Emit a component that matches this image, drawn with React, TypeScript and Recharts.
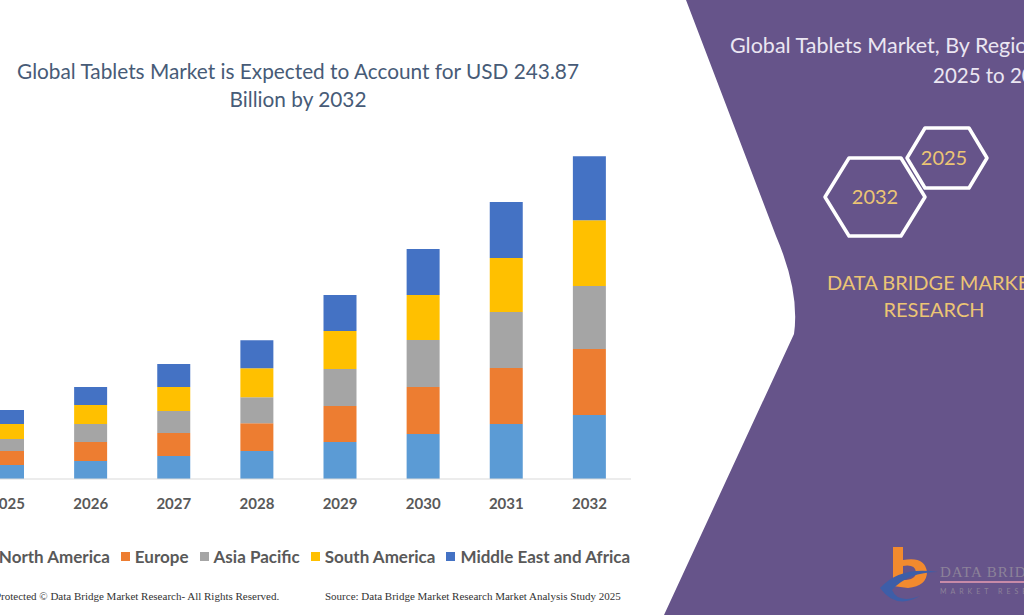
import React from "react";
import { BarChart, Bar, XAxis, YAxis, Legend } from "recharts";

const years = ["2025", "2026", "2027", "2028", "2029", "2030", "2031", "2032"];
const northAmerica = [10.6, 13.6, 17.4, 21.1, 27.9, 34.0, 41.5, 48.3];
const europe = [10.6, 14.3, 17.4, 21.1, 27.2, 35.5, 42.3, 49.8];
const asiaPacific = [9.1, 13.6, 16.6, 19.6, 27.9, 35.5, 42.3, 47.6];
const southAmerica = [11.3, 14.3, 18.1, 21.9, 28.7, 34.0, 40.8, 49.8];
const middleEastAfrica = [10.6, 13.6, 17.4, 21.1, 27.2, 34.7, 42.3, 48.3];

const series = [
  { key: "na", name: "North America", color: "#5b9bd5", values: northAmerica },
  { key: "eu", name: "Europe", color: "#ed7d31", values: europe },
  { key: "ap", name: "Asia Pacific", color: "#a5a5a5", values: asiaPacific },
  { key: "sa", name: "South America", color: "#ffc000", values: southAmerica },
  { key: "mea", name: "Middle East and Africa", color: "#4472c4", values: middleEastAfrica },
];

const data = years.map((year, i) => {
  const row: Record<string, string | number> = { year };
  series.forEach((s) => (row[s.key] = s.values[i]));
  return row;
});

const PURPLE = "#66548a";
const GOLD = "#ecc574";

// flat-topped hexagon outline
function hexPoints(cx: number, cy: number, hw: number, hh: number, top: number) {
  return [
    [cx - hw, cy],
    [cx - top, cy - hh],
    [cx + top, cy - hh],
    [cx + hw, cy],
    [cx + top, cy + hh],
    [cx - top, cy + hh],
  ]
    .map((p) => p.join(","))
    .join(" ");
}

function Backdrop() {
  return (
    <svg width={1024} height={615} style={{ position: "absolute", left: 0, top: 0 }}>
      <path d="M686,0 L776,236 Q800,292 794,334 L664,615 L1024,615 L1024,0 Z" fill={PURPLE} />

      <text x={298} y={79} textAnchor="middle" fontSize={20.8} fill="#475b77">
        Global Tablets Market is Expected to Account for USD 243.87
      </text>
      <text x={298} y={107} textAnchor="middle" fontSize={20.8} fill="#475b77">
        Billion by 2032
      </text>

      <text x={730} y={53} fontSize={21.5} fill="#ebe6f2">
        Global Tablets Market, By Region,
      </text>
      <text x={933} y={83} fontSize={20.5} fill="#ebe6f2">
        2025 to 2032
      </text>

      <polygon points={hexPoints(947, 158, 40, 30, 22)} fill="none" stroke="#fff" strokeWidth={3.5} strokeLinejoin="round" />
      <polygon points={hexPoints(875, 197, 50, 39, 26)} fill="none" stroke="#fff" strokeWidth={3.5} strokeLinejoin="round" />
      <text x={944} y={165} textAnchor="middle" fontSize={20} fill={GOLD}>2025</text>
      <text x={875} y={204} textAnchor="middle" fontSize={20} fill={GOLD}>2032</text>

      <text x={934} y={290} textAnchor="middle" fontSize={20} fill={GOLD}>DATA BRIDGE MARKET</text>
      <text x={934} y={317} textAnchor="middle" fontSize={20} fill={GOLD}>RESEARCH</text>

      {/* logo */}
      <path d="M893,547 L903,547 L903,560 Q925,556 927,572 Q927,586 908,588 L893,586 Z M903,566 L903,580 Q916,580 916,572 Q915,564 903,566 Z" fill="#f28a2e" fillRule="evenodd" />
      <path d="M880,588 Q900,566 938,572 Q908,572 892,590 Q898,604 920,596 Q896,610 880,588 Z" fill="#3d5ea8" />
      <text x={940} y={577} fontSize={15} fill="#8c8299" fontFamily="Liberation Serif" letterSpacing={1}>DATA BRIDGE</text>
      <line x1={940} y1={582} x2={1024} y2={582} stroke="#c78aa8" strokeWidth={2} />
      <text x={940} y={594} fontSize={7} fill="#8c8299" letterSpacing={4}>MARKET RESEARCH</text>

      <text x={-5} y={600} fontSize={11} fill="#333" fontFamily="Liberation Serif">
        Protected © Data Bridge Market Research-  All Rights Reserved.
      </text>
      <text x={325} y={600} fontSize={11} fill="#333" fontFamily="Liberation Serif">
        Source: Data Bridge Market Research  Market Analysis Study 2025
      </text>
    </svg>
  );
}

function LegendRow() {
  return (
    <div style={{ textAlign: "center", whiteSpace: "nowrap" }}>
      {series.map((s) => (
        <span key={s.key} style={{ display: "inline-flex", alignItems: "center", marginRight: 11 }}>
          <span style={{ width: 9, height: 9, background: s.color, marginRight: 5, display: "inline-block" }} />
          <span style={{ color: "#595959", fontWeight: 700, fontSize: 17 }}>{s.name}</span>
        </span>
      ))}
    </div>
  );
}

export default function App() {
  return (
    <div
      style={{
        position: "absolute",
        left: 0,
        top: 0,
        width: 1024,
        height: 615,
        overflow: "hidden",
        background: "#fff",
        fontFamily: "Lato, sans-serif",
      }}
    >
      <Backdrop />
      <div style={{ position: "absolute", left: -34, top: 0 }}>
        <BarChart width={665} height={615} data={data} margin={{ top: 148, right: 0, bottom: 106, left: 0 }}>
          <XAxis
            dataKey="year"
            height={30}
            tickLine={false}
            tickMargin={13}
            axisLine={{ stroke: "#d9d9d9" }}
            tick={{ fill: "#595959", fontSize: 15, fontWeight: 700 }}
          />
          <YAxis hide domain={[0, 250]} />
          <Legend
            layout="horizontal"
            verticalAlign="middle"
            align="center"
            wrapperStyle={{ top: 545, left: -3, width: 700 }}
            content={() => <LegendRow />}
          />
          {series.map((s) => (
            <Bar key={s.key} dataKey={s.key} name={s.name} stackId="a" fill={s.color} barSize={33} isAnimationActive={false} />
          ))}
        </BarChart>
      </div>
    </div>
  );
}
